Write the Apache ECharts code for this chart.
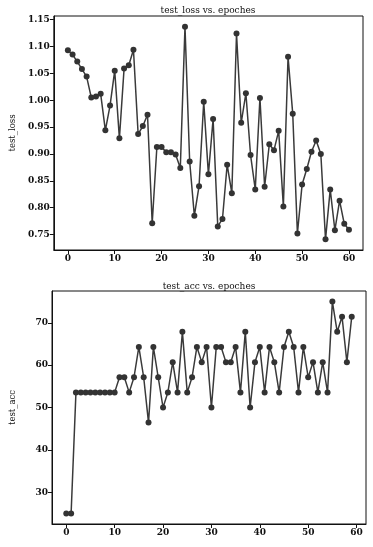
<!DOCTYPE html>
<html>
<head>
<meta charset="utf-8">
<script src="https://cdn.jsdelivr.net/npm/echarts@6/dist/echarts.min.js"></script>
<style>
html,body{margin:0;padding:0;background:#fff;}
#chart{width:373px;height:547px;}
</style>
</head>
<body>
<div id="chart"></div>
<script>
// ---- data ----
var lossEpochs = [0,1,2,3,4,5,6,7,8,9,10,11,12,13,14,15,16,17,18,19,20,21,22,23,24,25,26,27,28,29,30,31,32,33,34,35,36,37,38,39,40,41,42,43,44,45,46,47,48,49,50,51,52,53,54,55,56,57,58,59,60];
var lossValues = [1.093,1.085,1.072,1.058,1.044,1.005,1.007,1.012,0.944,0.990,1.055,0.929,1.059,1.065,1.094,0.937,0.952,0.973,0.771,0.913,0.913,0.903,0.903,0.899,0.874,1.137,0.886,0.785,0.840,0.997,0.862,0.965,0.765,0.779,0.880,0.827,1.124,0.958,1.013,0.898,0.834,1.004,0.839,0.918,0.907,0.943,0.802,1.081,0.975,0.752,0.843,0.872,0.904,0.925,0.900,0.741,0.834,0.758,0.813,0.770,0.759];
var accEpochs = [0,1,2,3,4,5,6,7,8,9,10,11,12,13,14,15,16,17,18,19,20,21,22,23,24,25,26,27,28,29,30,31,32,33,34,35,36,37,38,39,40,41,42,43,44,45,46,47,48,49,50,51,52,53,54,55,56,57,58,59];
var accValues = [25.00,25.00,53.57,53.57,53.57,53.57,53.57,53.57,53.57,53.57,53.57,57.14,57.14,53.57,57.14,64.29,57.14,46.43,64.29,57.14,50.00,53.57,60.71,53.57,67.86,53.57,57.14,64.29,60.71,64.29,50.00,64.29,64.29,60.71,60.71,64.29,53.57,67.86,50.00,60.71,64.29,53.57,64.29,60.71,53.57,64.29,67.86,64.29,53.57,64.29,57.14,60.71,53.57,60.71,53.57,75.00,67.86,71.43,60.71,71.43];
var xTicks = [0,10,20,30,40,50,60];
var lossTicks = [0.75,0.80,0.85,0.90,0.95,1.00,1.05,1.10,1.15];
var accTicks = [30,40,50,60,70];
var lossTitle = 'test_loss vs. epoches';
var accTitle = 'test_acc vs. epoches';
var lossName = 'test_loss';
var accName = 'test_acc';

// ---- chart ----
var FONT = 'DejaVu Serif';
var TXT = '#111';
function pairs(xs, ys){ return xs.map(function(x,i){ return [x, ys[i]]; }); }
function xAxisCfg(idx, min, max){
  return {
    type:'value', gridIndex:idx, min:min, max:max,
    axisLine:{show:true, onZero:false, lineStyle:{color:'#111', width:1}},
    axisTick:{show:true, length:4, lineStyle:{color:'#111'}, customValues:xTicks},
    axisLabel:{fontFamily:FONT, fontSize:9, fontWeight:'bold', color:TXT, margin:4, customValues:xTicks},
    splitLine:{show:false}
  };
}
function yAxisCfg(idx, min, max, ticks, name, fmt){
  return {
    type:'value', gridIndex:idx, min:min, max:max,
    name:name, nameLocation:'middle', nameRotate:90, nameGap:35,
    nameTextStyle:{fontFamily:FONT, fontSize:8.5, color:TXT},
    axisLine:{show:true, onZero:false, lineStyle:{color:'#111', width:1}},
    axisTick:{show:true, length:4, lineStyle:{color:'#111'}, customValues:ticks},
    axisLabel:{fontFamily:FONT, fontSize:9, fontWeight:'bold', color:TXT, margin:4, customValues:ticks, formatter:fmt},
    splitLine:{show:false}
  };
}
function seriesCfg(idx, data){
  return {
    type:'line', xAxisIndex:idx, yAxisIndex:idx, data:data,
    symbol:'circle', symbolSize:6, showSymbol:true,
    lineStyle:{color:'#3a3a3a', width:1.5},
    itemStyle:{color:'#333333'},
    emphasis:{disabled:true}
  };
}
var chart = echarts.init(document.getElementById('chart'), null, {renderer:'canvas'});
chart.setOption({
  animation:false,
  backgroundColor:'#ffffff',
  title:[
    {text:lossTitle, left:203, top:1, textAlign:'center', textStyle:{fontFamily:FONT, fontSize:9, fontWeight:'normal', color:TXT}},
    {text:accTitle, left:204, top:277, textAlign:'center', textStyle:{fontFamily:FONT, fontSize:9, fontWeight:'normal', color:TXT}}
  ],
  grid:[
    {left:43, right:10, top:16, height:234, show:true, borderColor:'#111', borderWidth:1, backgroundColor:'transparent'},
    {left:44, right:7, top:291, height:233, show:true, borderColor:'#111', borderWidth:1, backgroundColor:'transparent'}
  ],
  xAxis:[ xAxisCfg(0, -3, 63), xAxisCfg(1, -2.95, 61.95) ],
  yAxis:[
    yAxisCfg(0, 0.7212, 1.1568, lossTicks, lossName, function(v){ return v.toFixed(2); }),
    yAxisCfg(1, 22.5, 77.5, accTicks, accName, function(v){ return String(v); })
  ],
  series:[ seriesCfg(0, pairs(lossEpochs, lossValues)), seriesCfg(1, pairs(accEpochs, accValues)) ]
});
</script>
</body>
</html>
